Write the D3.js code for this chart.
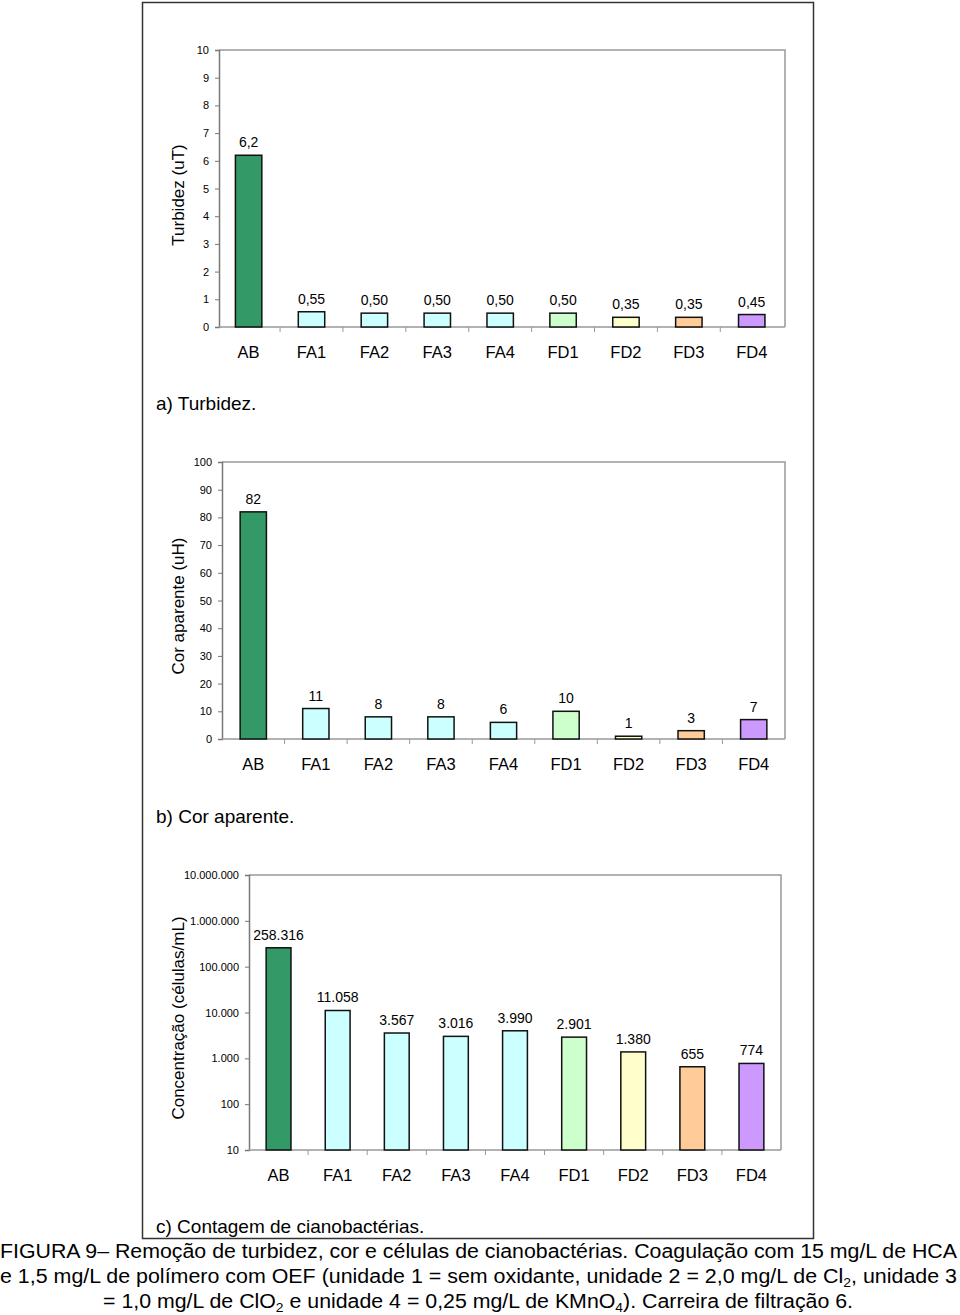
<!DOCTYPE html>
<html>
<head>
<meta charset="utf-8">
<script src="https://cdn.jsdelivr.net/npm/d3@7"></script>
<style>
body { margin: 0; background: #fff; }
svg { font-family: Arial, "Liberation Sans", sans-serif; }
.tick text { font-size: 11px; fill: #000; }
.cat text { font-size: 16.5px; fill: #000; }
</style>
</head>
<body>
<svg id="fig" width="960" height="1315"></svg>
<script>
// data
const categories = ['AB', 'FA1', 'FA2', 'FA3', 'FA4', 'FD1', 'FD2', 'FD3', 'FD4']
const barColors = ['#339966', '#ccffff', '#ccffff', '#ccffff', '#ccffff', '#ccffcc', '#ffffcc', '#ffcc99', '#cc99ff']
const turbidez = [6.2, 0.55, 0.50, 0.50, 0.50, 0.50, 0.35, 0.35, 0.45]
const corAparente = [82, 11, 8, 8, 6, 10, 1, 3, 7]
const contagem = [258316, 11058, 3567, 3016, 3990, 2901, 1380, 655, 774]
const turbTicks = [0, 1, 2, 3, 4, 5, 6, 7, 8, 9, 10]
const corTicks = [0, 10, 20, 30, 40, 50, 60, 70, 80, 90, 100]
const contTicks = [10, 100, 1000, 10000, 100000, 1000000, 10000000]

const pt = d3.formatLocale({decimal: ',', thousands: '.', grouping: [3], currency: ['R$', '']})

const svg = d3.select('#fig')

// outer frame
svg.append('rect')
    .attr('x', 142.5).attr('y', 2.5)
    .attr('width', 671).attr('height', 1236)
    .attr('fill', 'none').attr('stroke', '#333').attr('stroke-width', 1.5)

function drawChart(cfg) {
    const x = d3.scaleBand().domain(categories)
        .range([cfg.left, cfg.right]).paddingInner(0.58).paddingOuter(0.29).align(cfg.align)
    const y = cfg.log
        ? d3.scaleLog().domain(cfg.domain).range([cfg.bottom, cfg.top])
        : d3.scaleLinear().domain(cfg.domain).range([cfg.bottom, cfg.top])

    const g = svg.append('g')

    // plot area border (top + right)
    g.append('path')
        .attr('d', `M${cfg.left},${cfg.top}H${cfg.right}V${cfg.bottom}`)
        .attr('fill', 'none').attr('stroke', '#999').attr('stroke-width', 1.5)

    // y axis
    const ya = g.append('g')
        .attr('transform', `translate(${cfg.left},0)`)
        .call(d3.axisLeft(y).tickValues(cfg.ticks).tickSize(4).tickPadding(6)
            .tickFormat(cfg.tickFmt))
    ya.select('.domain').attr('stroke', '#777').attr('stroke-width', 1.5)
    ya.selectAll('.tick line').attr('stroke', '#777')

    // x axis baseline + ticks between categories
    g.append('line')
        .attr('x1', cfg.left).attr('x2', cfg.right)
        .attr('y1', cfg.bottom).attr('y2', cfg.bottom)
        .attr('stroke', '#999').attr('stroke-width', 1.5)
    const gap = (x.step() - x.bandwidth()) / 2
    g.selectAll('.bt').data(categories.slice(1)).enter().append('line')
        .attr('x1', d => x(d) - gap).attr('x2', d => x(d) - gap)
        .attr('y1', cfg.bottom).attr('y2', cfg.bottom + 5)
        .attr('stroke', '#999')

    // category labels
    g.append('g').attr('class', 'cat')
        .selectAll('text').data(categories).enter().append('text')
        .attr('x', d => x(d) + x.bandwidth() / 2)
        .attr('y', cfg.bottom + 31)
        .attr('text-anchor', 'middle')
        .text(d => d)

    // bars
    const base = cfg.log ? y(cfg.domain[0]) : y(0)
    g.selectAll('.bar').data(cfg.values).enter().append('rect')
        .attr('x', (d, i) => x(categories[i]))
        .attr('y', d => y(d))
        .attr('width', x.bandwidth())
        .attr('height', d => base - y(d))
        .attr('fill', (d, i) => barColors[i])
        .attr('stroke', '#111').attr('stroke-width', 1.5)

    // value labels
    g.selectAll('.vl').data(cfg.values).enter().append('text')
        .attr('x', (d, i) => x(categories[i]) + x.bandwidth() / 2)
        .attr('y', d => y(d) - 8)
        .attr('text-anchor', 'middle')
        .attr('font-size', 14)
        .text(cfg.valFmt)

    // y title
    g.append('text')
        .attr('transform', `translate(184,${cfg.titleY}) rotate(-90)`)
        .attr('text-anchor', 'middle')
        .attr('font-size', 17)
        .text(cfg.title)

    // panel caption
    g.append('text')
        .attr('x', 156).attr('y', cfg.capY)
        .attr('font-size', 19)
        .text(cfg.caption)
}

drawChart({
    left: 219, right: 785, top: 50, bottom: 327, align: 0.45,
    domain: [0, 10], ticks: turbTicks, values: turbidez,
    tickFmt: d3.format('d'),
    valFmt: d => d >= 1 ? pt.format(',.1f')(d) : pt.format(',.2f')(d),
    title: 'Turbidez (uT)', titleY: 195,
    caption: 'a) Turbidez.', capY: 410
})

drawChart({
    left: 222, right: 785, top: 462, bottom: 739, align: 0.5,
    domain: [0, 100], ticks: corTicks, values: corAparente,
    tickFmt: d3.format('d'),
    valFmt: d => pt.format(',d')(d),
    title: 'Cor aparente (uH)', titleY: 606,
    caption: 'b) Cor aparente.', capY: 823
})

drawChart({
    left: 249, right: 781, top: 875, bottom: 1150, align: 0.5, log: true,
    domain: [10, 1e7], ticks: contTicks, values: contagem,
    tickFmt: pt.format(',d'),
    valFmt: d => pt.format(',d')(d),
    title: 'Concentração (células/mL)', titleY: 1018,
    caption: 'c) Contagem de cianobactérias.', capY: 1233
})

// figure caption
const cap = svg.append('g').attr('font-size', 20)
cap.append('text').attr('x', 0).attr('y', 1258)
    .attr('textLength', 957).attr('lengthAdjust', 'spacingAndGlyphs')
    .text('FIGURA 9– Remoção de turbidez, cor e células de cianobactérias. Coagulação com 15 mg/L de HCA')

const l2 = cap.append('text').attr('x', 0).attr('y', 1283)
    .attr('textLength', 957).attr('lengthAdjust', 'spacingAndGlyphs')
l2.append('tspan').text('e 1,5 mg/L de polímero com OEF (unidade 1 = sem oxidante, unidade 2 = 2,0 mg/L de Cl')
l2.append('tspan').attr('font-size', 13).attr('dy', 4).text('2')
l2.append('tspan').attr('dy', -4).text(', unidade 3')

const l3 = cap.append('text').attr('x', 103).attr('y', 1308)
    .attr('textLength', 750).attr('lengthAdjust', 'spacingAndGlyphs')
l3.append('tspan').text('= 1,0 mg/L de ClO')
l3.append('tspan').attr('font-size', 13).attr('dy', 4).text('2')
l3.append('tspan').attr('dy', -4).text(' e unidade 4 = 0,25 mg/L de KMnO')
l3.append('tspan').attr('font-size', 13).attr('dy', 4).text('4')
l3.append('tspan').attr('dy', -4).text('). Carreira de filtração 6.')
</script>
</body>
</html>
